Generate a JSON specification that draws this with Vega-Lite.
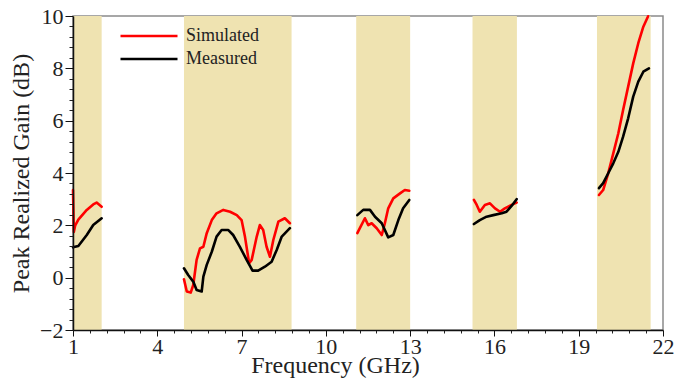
{
  "$schema": "https://vega.github.io/schema/vega-lite/v6.json",
  "width": 590,
  "height": 314,
  "autosize": {"type": "none"},
  "padding": {"left": 73, "top": 16, "right": 12, "bottom": 51},
  "background": "white",
  "config": {"view": {"stroke": "#8a8a8a", "strokeWidth": 1.5}, "font": "Liberation Serif"},
  "resolve": {"axis": {"x": "independent", "y": "independent"}},
  "datasets": {
    "bands": [
      {"start": 1, "end": 2.02},
      {"start": 4.95, "end": 8.78},
      {"start": 11.08, "end": 13.0},
      {"start": 15.22, "end": 16.8},
      {"start": 19.65, "end": 21.56}
    ],
    "gain": [
      {"f": 1.0, "g": 3.35, "s": "Simulated", "seg": 1},
      {"f": 1.03, "g": 1.75, "s": "Simulated", "seg": 1},
      {"f": 1.08, "g": 2.0, "s": "Simulated", "seg": 1},
      {"f": 1.19, "g": 2.22, "s": "Simulated", "seg": 1},
      {"f": 1.49, "g": 2.59, "s": "Simulated", "seg": 1},
      {"f": 1.72, "g": 2.8, "s": "Simulated", "seg": 1},
      {"f": 1.84, "g": 2.87, "s": "Simulated", "seg": 1},
      {"f": 2.02, "g": 2.71, "s": "Simulated", "seg": 1},
      {"f": 1.0, "g": 1.16, "s": "Measured", "seg": 1},
      {"f": 1.19, "g": 1.21, "s": "Measured", "seg": 1},
      {"f": 1.49, "g": 1.63, "s": "Measured", "seg": 1},
      {"f": 1.72, "g": 2.01, "s": "Measured", "seg": 1},
      {"f": 2.02, "g": 2.27, "s": "Measured", "seg": 1},
      {"f": 4.95, "g": -0.06, "s": "Simulated", "seg": 2},
      {"f": 5.05, "g": -0.53, "s": "Simulated", "seg": 2},
      {"f": 5.19, "g": -0.57, "s": "Simulated", "seg": 2},
      {"f": 5.28, "g": -0.28, "s": "Simulated", "seg": 2},
      {"f": 5.4, "g": 0.68, "s": "Simulated", "seg": 2},
      {"f": 5.52, "g": 1.12, "s": "Simulated", "seg": 2},
      {"f": 5.64, "g": 1.18, "s": "Simulated", "seg": 2},
      {"f": 5.76, "g": 1.7, "s": "Simulated", "seg": 2},
      {"f": 5.94, "g": 2.2, "s": "Simulated", "seg": 2},
      {"f": 6.11, "g": 2.46, "s": "Simulated", "seg": 2},
      {"f": 6.35, "g": 2.59, "s": "Simulated", "seg": 2},
      {"f": 6.59, "g": 2.52, "s": "Simulated", "seg": 2},
      {"f": 6.83, "g": 2.39, "s": "Simulated", "seg": 2},
      {"f": 7.0, "g": 2.2, "s": "Simulated", "seg": 2},
      {"f": 7.12, "g": 1.57, "s": "Simulated", "seg": 2},
      {"f": 7.27, "g": 0.55, "s": "Simulated", "seg": 2},
      {"f": 7.36, "g": 0.68, "s": "Simulated", "seg": 2},
      {"f": 7.54, "g": 1.57, "s": "Simulated", "seg": 2},
      {"f": 7.65, "g": 2.01, "s": "Simulated", "seg": 2},
      {"f": 7.77, "g": 1.82, "s": "Simulated", "seg": 2},
      {"f": 7.89, "g": 1.18, "s": "Simulated", "seg": 2},
      {"f": 8.01, "g": 0.8, "s": "Simulated", "seg": 2},
      {"f": 8.13, "g": 1.44, "s": "Simulated", "seg": 2},
      {"f": 8.31, "g": 2.14, "s": "Simulated", "seg": 2},
      {"f": 8.54, "g": 2.27, "s": "Simulated", "seg": 2},
      {"f": 8.72, "g": 2.08, "s": "Simulated", "seg": 2},
      {"f": 4.95, "g": 0.36, "s": "Measured", "seg": 2},
      {"f": 5.1, "g": 0.1, "s": "Measured", "seg": 2},
      {"f": 5.28, "g": -0.15, "s": "Measured", "seg": 2},
      {"f": 5.4, "g": -0.47, "s": "Measured", "seg": 2},
      {"f": 5.58, "g": -0.53, "s": "Measured", "seg": 2},
      {"f": 5.64, "g": 0.04, "s": "Measured", "seg": 2},
      {"f": 5.76, "g": 0.49, "s": "Measured", "seg": 2},
      {"f": 5.94, "g": 0.99, "s": "Measured", "seg": 2},
      {"f": 6.11, "g": 1.57, "s": "Measured", "seg": 2},
      {"f": 6.29, "g": 1.82, "s": "Measured", "seg": 2},
      {"f": 6.53, "g": 1.82, "s": "Measured", "seg": 2},
      {"f": 6.7, "g": 1.63, "s": "Measured", "seg": 2},
      {"f": 6.94, "g": 1.18, "s": "Measured", "seg": 2},
      {"f": 7.18, "g": 0.68, "s": "Measured", "seg": 2},
      {"f": 7.39, "g": 0.27, "s": "Measured", "seg": 2},
      {"f": 7.59, "g": 0.27, "s": "Measured", "seg": 2},
      {"f": 7.83, "g": 0.42, "s": "Measured", "seg": 2},
      {"f": 8.07, "g": 0.61, "s": "Measured", "seg": 2},
      {"f": 8.25, "g": 1.06, "s": "Measured", "seg": 2},
      {"f": 8.43, "g": 1.57, "s": "Measured", "seg": 2},
      {"f": 8.72, "g": 1.89, "s": "Measured", "seg": 2},
      {"f": 11.12, "g": 1.7, "s": "Simulated", "seg": 3},
      {"f": 11.21, "g": 1.89, "s": "Simulated", "seg": 3},
      {"f": 11.39, "g": 2.27, "s": "Simulated", "seg": 3},
      {"f": 11.51, "g": 2.01, "s": "Simulated", "seg": 3},
      {"f": 11.63, "g": 2.08, "s": "Simulated", "seg": 3},
      {"f": 11.81, "g": 1.89, "s": "Simulated", "seg": 3},
      {"f": 11.99, "g": 1.63, "s": "Simulated", "seg": 3},
      {"f": 12.1, "g": 2.08, "s": "Simulated", "seg": 3},
      {"f": 12.22, "g": 2.65, "s": "Simulated", "seg": 3},
      {"f": 12.4, "g": 3.03, "s": "Simulated", "seg": 3},
      {"f": 12.64, "g": 3.22, "s": "Simulated", "seg": 3},
      {"f": 12.81, "g": 3.35, "s": "Simulated", "seg": 3},
      {"f": 12.97, "g": 3.32, "s": "Simulated", "seg": 3},
      {"f": 11.12, "g": 2.39, "s": "Measured", "seg": 3},
      {"f": 11.33, "g": 2.59, "s": "Measured", "seg": 3},
      {"f": 11.57, "g": 2.59, "s": "Measured", "seg": 3},
      {"f": 11.75, "g": 2.33, "s": "Measured", "seg": 3},
      {"f": 11.99, "g": 2.08, "s": "Measured", "seg": 3},
      {"f": 12.22, "g": 1.54, "s": "Measured", "seg": 3},
      {"f": 12.4, "g": 1.63, "s": "Measured", "seg": 3},
      {"f": 12.58, "g": 2.2, "s": "Measured", "seg": 3},
      {"f": 12.75, "g": 2.65, "s": "Measured", "seg": 3},
      {"f": 12.97, "g": 2.97, "s": "Measured", "seg": 3},
      {"f": 15.27, "g": 2.97, "s": "Simulated", "seg": 4},
      {"f": 15.37, "g": 2.78, "s": "Simulated", "seg": 4},
      {"f": 15.48, "g": 2.52, "s": "Simulated", "seg": 4},
      {"f": 15.66, "g": 2.78, "s": "Simulated", "seg": 4},
      {"f": 15.84, "g": 2.84, "s": "Simulated", "seg": 4},
      {"f": 16.02, "g": 2.65, "s": "Simulated", "seg": 4},
      {"f": 16.2, "g": 2.52, "s": "Simulated", "seg": 4},
      {"f": 16.37, "g": 2.65, "s": "Simulated", "seg": 4},
      {"f": 16.61, "g": 2.78, "s": "Simulated", "seg": 4},
      {"f": 16.79, "g": 2.87, "s": "Simulated", "seg": 4},
      {"f": 15.27, "g": 2.05, "s": "Measured", "seg": 4},
      {"f": 15.48, "g": 2.2, "s": "Measured", "seg": 4},
      {"f": 15.72, "g": 2.33, "s": "Measured", "seg": 4},
      {"f": 15.96, "g": 2.39, "s": "Measured", "seg": 4},
      {"f": 16.26, "g": 2.46, "s": "Measured", "seg": 4},
      {"f": 16.43, "g": 2.52, "s": "Measured", "seg": 4},
      {"f": 16.61, "g": 2.74, "s": "Measured", "seg": 4},
      {"f": 16.79, "g": 3.0, "s": "Measured", "seg": 4},
      {"f": 19.72, "g": 3.16, "s": "Simulated", "seg": 5},
      {"f": 19.87, "g": 3.35, "s": "Simulated", "seg": 5},
      {"f": 20.05, "g": 3.99, "s": "Simulated", "seg": 5},
      {"f": 20.23, "g": 4.75, "s": "Simulated", "seg": 5},
      {"f": 20.41, "g": 5.52, "s": "Simulated", "seg": 5},
      {"f": 20.58, "g": 6.41, "s": "Simulated", "seg": 5},
      {"f": 20.76, "g": 7.3, "s": "Simulated", "seg": 5},
      {"f": 20.94, "g": 8.19, "s": "Simulated", "seg": 5},
      {"f": 21.12, "g": 8.96, "s": "Simulated", "seg": 5},
      {"f": 21.3, "g": 9.59, "s": "Simulated", "seg": 5},
      {"f": 21.47, "g": 9.99, "s": "Simulated", "seg": 5},
      {"f": 19.72, "g": 3.42, "s": "Measured", "seg": 5},
      {"f": 19.87, "g": 3.61, "s": "Measured", "seg": 5},
      {"f": 20.05, "g": 3.99, "s": "Measured", "seg": 5},
      {"f": 20.23, "g": 4.37, "s": "Measured", "seg": 5},
      {"f": 20.41, "g": 4.81, "s": "Measured", "seg": 5},
      {"f": 20.58, "g": 5.39, "s": "Measured", "seg": 5},
      {"f": 20.76, "g": 6.09, "s": "Measured", "seg": 5},
      {"f": 20.94, "g": 6.92, "s": "Measured", "seg": 5},
      {"f": 21.12, "g": 7.49, "s": "Measured", "seg": 5},
      {"f": 21.3, "g": 7.87, "s": "Measured", "seg": 5},
      {"f": 21.5, "g": 8.0, "s": "Measured", "seg": 5}
    ]
  },
  "layer": [
    {
      "data": {"name": "bands"},
      "mark": {"type": "rect", "color": "#EFE3B1"},
      "encoding": {
        "x": {
          "field": "start", "type": "quantitative",
          "scale": {"domain": [1, 22], "nice": false, "zero": false},
          "axis": {"orient": "bottom", "title": null, "labels": false, "domain": false, "grid": false, "tickSize": 3, "tickColor": "#222", "zindex": 1,
            "values": [1.6, 2.2, 2.8, 3.4, 4.6, 5.2, 5.8, 6.4, 7.6, 8.2, 8.8, 9.4, 10.6, 11.2, 11.8, 12.4, 13.6, 14.2, 14.8, 15.4, 16.6, 17.2, 17.8, 18.4, 19.6, 20.2, 20.8, 21.4]}
        },
        "x2": {"field": "end"},
        "y": {
          "datum": -2, "type": "quantitative",
          "scale": {"domain": [-2, 10], "nice": false, "zero": false},
          "axis": {"orient": "left", "title": null, "labels": false, "domain": false, "grid": false, "tickSize": 4, "tickColor": "#222", "zindex": 1,
            "values": [-1.6, -1.2, -0.8, -0.4, 0.4, 0.8, 1.2, 1.6, 2.4, 2.8, 3.2, 3.6, 4.4, 4.8, 5.2, 5.6, 6.4, 6.8, 7.2, 7.6, 8.4, 8.8, 9.2, 9.6]}
        },
        "y2": {"datum": 10}
      }
    },
    {
      "data": {"name": "gain"},
      "mark": {"type": "line", "strokeWidth": 2.6, "strokeCap": "round", "strokeJoin": "round"},
      "encoding": {
        "x": {
          "field": "f", "type": "quantitative",
          "axis": {"orient": "bottom", "title": "Frequency (GHz)", "values": [1, 4, 7, 10, 13, 16, 19, 22],
            "tickSize": 6, "tickColor": "#111", "domainColor": "#111", "domainWidth": 1.5, "grid": false, "zindex": 1,
            "labelFont": "Liberation Serif", "labelFontSize": 22, "labelColor": "#222", "labelBaseline": "alphabetic", "labelPadding": 17, "labelFlush": false, "labelOverlap": false,
            "titleFont": "Liberation Serif", "titleFontSize": 24, "titleFontWeight": "normal", "titleColor": "#222",
            "titleX": 262, "titleY": 42, "titleBaseline": "alphabetic", "titleAlign": "center"}
        },
        "y": {
          "field": "g", "type": "quantitative",
          "axis": {"orient": "left", "title": "Peak Realized Gain (dB)", "values": [-2, 0, 2, 4, 6, 8, 10],
            "tickSize": 8, "tickColor": "#111", "domainColor": "#111", "domainWidth": 1.5, "grid": false, "zindex": 1,
            "labelFont": "Liberation Serif", "labelFontSize": 22, "labelColor": "#222", "labelPadding": 2, "labelFlush": false, "labelOverlap": false,
            "titleFont": "Liberation Serif", "titleFontSize": 24, "titleFontWeight": "normal", "titleColor": "#222", "titlePadding": 6}
        },
        "color": {
          "field": "s", "type": "nominal",
          "scale": {"domain": ["Simulated", "Measured"], "range": ["#ff0000", "#000000"]},
          "legend": {"orient": "none", "legendX": 67, "legendY": 11, "title": null,
            "symbolType": "M-5.7,0H5.7", "symbolSize": 100, "symbolStrokeWidth": 2.6,
            "labelFont": "Liberation Serif", "labelFontSize": 18, "labelColor": "#222", "labelOffset": 28, "rowPadding": 5}
        },
        "detail": {"field": "seg", "type": "nominal"}
      }
    }
  ]
}
